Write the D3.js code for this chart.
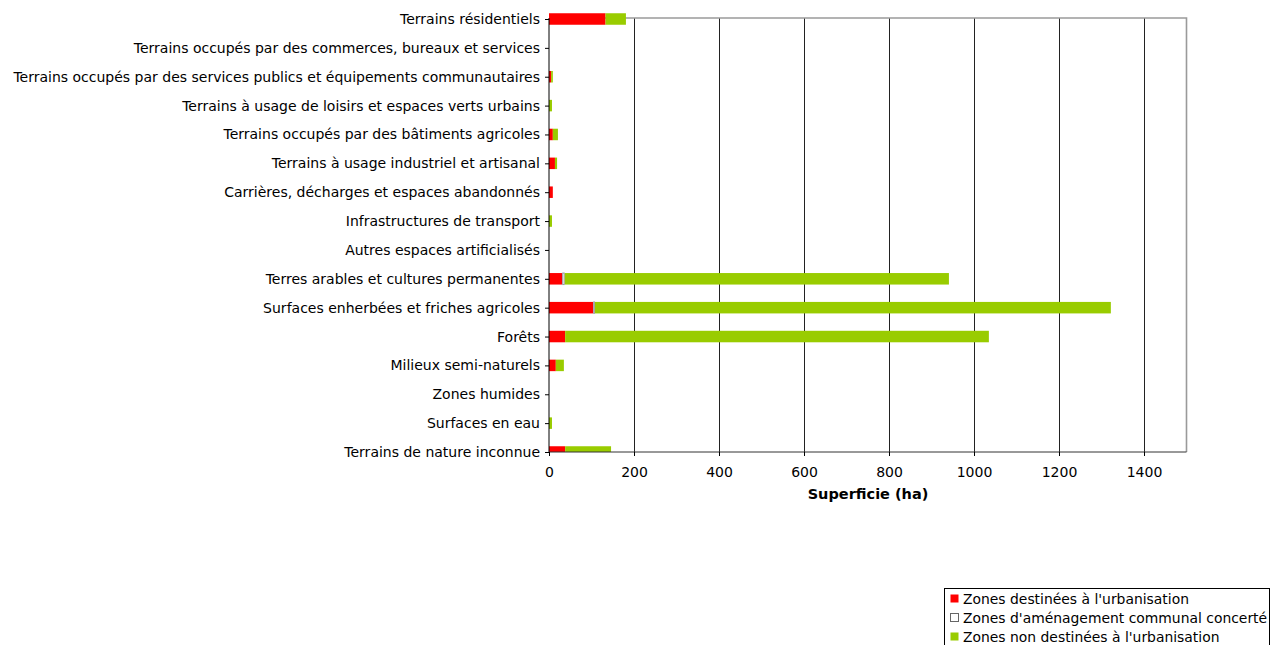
<!DOCTYPE html>
<html><head><meta charset="utf-8">
<script src="https://cdn.jsdelivr.net/npm/d3@7"></script>
<style>body{margin:0;background:#fff}svg{display:block}text{font-family:"DejaVu Sans",Verdana,sans-serif;fill:#000}</style>
</head><body>
<script>
const categories = [
  "Terrains résidentiels",
  "Terrains occupés par des commerces, bureaux et services",
  "Terrains occupés par des services publics et équipements communautaires",
  "Terrains à usage de loisirs et espaces verts urbains",
  "Terrains occupés par des bâtiments agricoles",
  "Terrains à usage industriel et artisanal",
  "Carrières, décharges et espaces abandonnés",
  "Infrastructures de transport",
  "Autres espaces artificialisés",
  "Terres arables et cultures permanentes",
  "Surfaces enherbées et friches agricoles",
  "Forêts",
  "Milieux semi-naturels",
  "Zones humides",
  "Surfaces en eau",
  "Terrains de nature inconnue"
];
const seriesNames = ["Zones destinées à l'urbanisation", "Zones d'aménagement communal concerté", "Zones non destinées à l'urbanisation"];
const urbanisation    = [133, 0, 5, 0, 9, 14, 9, 0, 0, 31, 104, 38, 16, 0, 0, 38];
const amenagement     = [0, 0, 0, 0, 0, 0, 0, 0, 0, 6, 4, 0, 0, 0, 0, 0];
const nonUrbanisation = [48, 0, 4, 7, 12, 5, 0, 7, 0, 904, 1214, 997, 19, 0, 7, 108];
const xTicks = [0, 200, 400, 600, 800, 1000, 1200, 1400];
const colors = ["#ff0000", "#ffffff", "#99cc00"];
const strokes = ["none", "#9a9aaa", "none"];

const W = 1279, H = 645;
const svg = d3.select("body").append("svg").attr("width", W).attr("height", H);

const x = d3.scaleLinear().domain([0, 1500]).range([549, 1186.5]);
const y = d3.scalePoint().domain(categories).range([19, 452]);
const plotTop = 18, plotBottom = 452;
const barH = 11.5;

// gridlines
svg.append("g").selectAll("line").data(xTicks.filter(d => d > 0)).join("line")
  .attr("x1", d => Math.round(x(d)) + 0.5).attr("x2", d => Math.round(x(d)) + 0.5)
  .attr("y1", plotTop).attr("y2", plotBottom).attr("stroke", "#222").attr("stroke-width", 1);

// plot border top & right
svg.append("path").attr("d", `M${x(0)},${plotTop}H${x(1500)}V${plotBottom}`)
  .attr("fill", "none").attr("stroke", "#9a9a9a").attr("stroke-width", 1.6);

// clip
svg.append("clipPath").attr("id", "clip").append("rect")
  .attr("x", 540).attr("y", 0).attr("width", 700).attr("height", plotBottom);

const stackData = categories.map((c, i) => ({cat: c, a: urbanisation[i], b: amenagement[i], c: nonUrbanisation[i]}));
const stack = d3.stack().keys(["a", "b", "c"])(stackData);

const gBars = svg.append("g").attr("clip-path", "url(#clip)");
stack.forEach((layer, k) => {
  gBars.append("g").selectAll("rect").data(layer.filter(d => d[1] - d[0] > 0)).join("rect")
    .attr("x", d => x(d[0]) + (k === 1 ? 0.5 : 0))
    .attr("width", d => Math.max(0, x(d[1]) - x(d[0]) - (k === 1 ? 1 : 0)))
    .attr("y", d => y(d.data.cat) - barH / 2)
    .attr("height", barH)
    .attr("fill", colors[k])
    .attr("stroke", strokes[k]).attr("stroke-width", k === 1 ? 1 : 0);
});

// y axis
const yAxis = d3.axisLeft(y).tickSize(4).tickPadding(5);
const gy = svg.append("g").attr("transform", `translate(${x(0)},0)`).call(yAxis);
gy.select(".domain").attr("stroke", "#000").attr("d", `M0,${plotTop}V${plotBottom}`);
gy.selectAll(".tick line").attr("stroke", "#000");
gy.selectAll("text").style("font-size", "14px").attr("font-family", null);

// x axis
const xAxis = d3.axisBottom(x).tickValues(xTicks).tickSize(4).tickPadding(11).tickFormat(d3.format("d"));
const gx = svg.append("g").attr("transform", `translate(0,${plotBottom})`).call(xAxis);
gx.select(".domain").attr("stroke", "#333").attr("d", `M${x(0)},0H${x(1500)}`);
gx.selectAll(".tick line").attr("stroke", "#000");
gx.selectAll("text").style("font-size", "14px").attr("font-family", null);

svg.append("text").attr("x", 868).attr("y", 499).attr("text-anchor", "middle")
  .style("font-size", "14.5px").style("font-weight", "bold").text("Superficie (ha)");

// legend
const lg = svg.append("g");
lg.append("rect").attr("x", 944.5).attr("y", 588.5).attr("width", 325).attr("height", 60)
  .attr("fill", "#fff").attr("stroke", "#000").attr("stroke-width", 1);
seriesNames.forEach((n, i) => {
  const yy = 599 + i * 19;
  lg.append("rect").attr("x", 950.5).attr("y", yy - 4.5).attr("width", 8).attr("height", 8)
    .attr("fill", colors[i]).attr("stroke", i === 1 ? "#666" : "none");
  lg.append("text").attr("x", 963).attr("y", yy + 5).style("font-size", "13.9px").text(n);
});
</script>
</body></html>
